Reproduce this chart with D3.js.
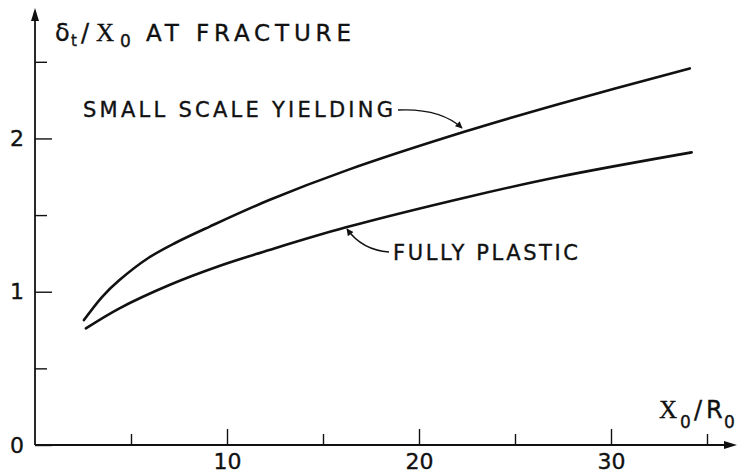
<!DOCTYPE html>
<html>
<head>
<meta charset="utf-8">
<script src="https://cdn.jsdelivr.net/npm/d3@7"></script>
<style>
  body { margin: 0; background: #fff; }
  svg { display: block; }
  text { font-family: "DejaVu Sans", "Liberation Sans", sans-serif; fill: #111; stroke: #111; stroke-width: 0.35px; }
</style>
</head>
<body>
<svg id="chart" width="748" height="474"></svg>
<script>
// Crack-tip opening at fracture (delta_t / X0) against X0 / R0
const ssyX = [2.55, 3.5, 4.4, 5.9, 7.3, 9.1, 12.2, 16.3, 22.4, 27.3, 34.1];
const ssyY = [0.815, 0.967, 1.076, 1.22, 1.318, 1.425, 1.598, 1.795, 2.045, 2.225, 2.457];
const fpX = [2.65, 4.4, 7.0, 9.6, 12.2, 16.2, 22.6, 27.3, 34.2];
const fpY = [0.761, 0.892, 1.044, 1.168, 1.272, 1.42, 1.62, 1.75, 1.909];
const xMajorTicks = [10, 20, 30];
const xMinorTicks = [5, 15, 25, 35];
const yMajorTicks = [0, 1, 2];
const yMinorTicks = [0.5, 1.5, 2.5];
const seriesNames = ["SMALL SCALE YIELDING", "FULLY PLASTIC"];

const svg = d3.select("#chart");
const ink = "#111";
const sans = '"DejaVu Sans", "Liberation Sans", sans-serif';
const serif = '"Liberation Serif", "DejaVu Serif", serif';

const x = d3.scaleLinear().domain([0, 35]).range([35, 707]);
const y = d3.scaleLinear().domain([0, 2.5]).range([445, 61.8]);

// arrowheads for the leader lines
const defs = svg.append("defs");
defs.append("marker")
  .attr("id", "lead")
  .attr("viewBox", "0 0 10 10")
  .attr("refX", 9).attr("refY", 5)
  .attr("markerWidth", 9).attr("markerHeight", 7)
  .attr("markerUnits", "userSpaceOnUse")
  .attr("orient", "auto")
  .append("path").attr("d", "M0,0 L10,5 L0,10 Z").attr("fill", ink);

// ticks point inward; only the major ones carry numbers
function styleAxis(g) {
  g.select(".domain").remove();
  g.selectAll(".tick line").attr("stroke", ink).attr("stroke-width", 1.4);
  g.selectAll(".tick text")
    .attr("fill", ink)
    .style("font-family", sans)
    .style("font-size", "22px");
}

svg.append("g")
  .attr("transform", `translate(0,${y(0)})`)
  .call(d3.axisBottom(x).tickValues(xMajorTicks).tickSize(-16).tickPadding(8).tickFormat(d3.format("d")))
  .call(styleAxis);
svg.append("g")
  .attr("transform", `translate(0,${y(0)})`)
  .call(d3.axisBottom(x).tickValues(xMinorTicks).tickSize(-11).tickFormat(""))
  .call(styleAxis);
svg.append("g")
  .attr("transform", `translate(${x(0)},0)`)
  .call(d3.axisLeft(y).tickValues(yMajorTicks).tickSize(-17).tickPadding(11).tickFormat(d3.format("d")))
  .call(styleAxis);
svg.append("g")
  .attr("transform", `translate(${x(0)},0)`)
  .call(d3.axisLeft(y).tickValues(yMinorTicks).tickSize(-12).tickFormat(""))
  .call(styleAxis);

// axis lines with arrowheads
const x0 = x(0), y0 = y(0);
svg.append("line").attr("x1", x0).attr("y1", y0).attr("x2", x0).attr("y2", 18)
  .attr("stroke", ink).attr("stroke-width", 1.8);
svg.append("path").attr("d", `M${x0},8 L${x0 - 4},21 L${x0 + 4},21 Z`).attr("fill", ink);
svg.append("line").attr("x1", x0).attr("y1", y0).attr("x2", 726).attr("y2", y0)
  .attr("stroke", ink).attr("stroke-width", 1.8);
svg.append("path").attr("d", `M737,${y0} L724,${y0 - 4} L724,${y0 + 4} Z`).attr("fill", ink);

// the two fracture curves
const line = d3.line().x(d => x(d[0])).y(d => y(d[1])).curve(d3.curveCatmullRom.alpha(0.5));
const series = [d3.zip(ssyX, ssyY), d3.zip(fpX, fpY)];
svg.selectAll("path.curve").data(series).enter().append("path")
  .attr("class", "curve")
  .attr("d", line)
  .attr("fill", "none")
  .attr("stroke", ink)
  .attr("stroke-width", 2.6)
  .attr("stroke-linecap", "round");

// y-axis title
const yt = svg.append("text").style("font-size", "24px");
yt.append("tspan").attr("x", 55).attr("y", 41).text("δ");
yt.append("tspan").attr("x", 71).attr("y", 46).style("font-size", "15px").text("t");
yt.append("tspan").attr("x", 81).attr("y", 41).text("/");
yt.append("tspan").attr("x", 96).attr("y", 41).style("font-family", serif).style("font-size", "25px").text("X");
yt.append("tspan").attr("x", 120).attr("y", 47).style("font-size", "17px").text("0");
yt.append("tspan").attr("x", 146).attr("y", 41).style("font-size", "23px")
  .attr("textLength", 205).attr("lengthAdjust", "spacing").text("AT FRACTURE");

// x-axis title
const xt = svg.append("text").style("font-size", "24px");
xt.append("tspan").attr("x", 659).attr("y", 418).style("font-family", serif).style("font-size", "25px").text("X");
xt.append("tspan").attr("x", 680).attr("y", 428).style("font-size", "17px").text("0");
xt.append("tspan").attr("x", 694).attr("y", 418).text("/");
xt.append("tspan").attr("x", 706).attr("y", 418).text("R");
xt.append("tspan").attr("x", 724).attr("y", 428).style("font-size", "17px").text("0");

// series labels with leader arrows
svg.append("text").attr("x", 83).attr("y", 117)
  .style("font-size", "21px")
  .attr("textLength", 310).attr("lengthAdjust", "spacing")
  .text(seriesNames[0]);
svg.append("path").attr("d", "M398,110 Q440,108 462,128")
  .attr("fill", "none").attr("stroke", ink).attr("stroke-width", 1.3)
  .attr("marker-end", "url(#lead)");

svg.append("text").attr("x", 393).attr("y", 260)
  .style("font-size", "21px")
  .attr("textLength", 185).attr("lengthAdjust", "spacing")
  .text(seriesNames[1]);
svg.append("path").attr("d", "M389,252 Q362,250 347,229")
  .attr("fill", "none").attr("stroke", ink).attr("stroke-width", 1.3)
  .attr("marker-end", "url(#lead)");
</script>
</body>
</html>
